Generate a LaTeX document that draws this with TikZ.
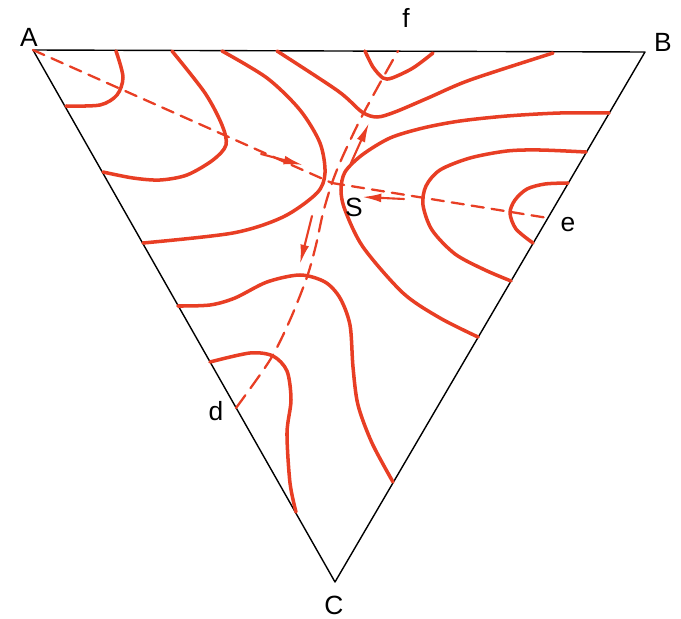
\documentclass[tikz,border=0pt]{standalone}
\usepackage{fontspec}
\setsansfont{Liberation Sans}
\usepackage{tikz}
\usetikzlibrary{arrows.meta}
\definecolor{isored}{RGB}{232,62,36}
\tikzstyle{isoline}=[line width=2pt, isored]
\tikzstyle{route}=[line width=1.3pt, isored, dash pattern=on 7pt off 4.5pt]
\tikzstyle{flow}=[line width=1.2pt, isored, -{Latex[length=11pt,width=5pt]}]
\tikzstyle{lbl}=[font=\sffamily\fontsize{15}{17}\selectfont, inner sep=0pt]

\begin{document}
\begin{tikzpicture}[line cap=round,line join=round,x=0.02cm,y=-0.02cm]
\useasboundingbox (0,0) rectangle (681,619);
% corners and points on the sides
\coordinate (A) at (33,50);
\coordinate (B) at (645,52);
\coordinate (C) at (335,582);
\coordinate (S) at (332,183);
\coordinate (d) at (236,408);
\coordinate (e) at (548,218);
\coordinate (f) at (398,51);
\draw [line width=0.8pt] (A) -- (B) -- (C) -- cycle;
% contour lines
\draw [isoline] plot[smooth] coordinates {(116,51) (123,77) (117,95) (100,105) (66,106)};
\draw [isoline] plot[smooth] coordinates {(172,51) (205,93) (222,125) (226,145) (213,160) (187,175) (160,180) (133,178) (103,172)};
\draw [isoline] plot[smooth] coordinates {(222,51) (267,78) (300,110) (320,143) (325,173) (317,193) (283,217) (233,233) (143,243)};
\draw [isoline] plot[smooth] coordinates {(277,51) (338,91) (362,112) (377,117) (395,112) (428,98) (470,80) (553,53)};
\draw [isoline] plot[smooth] coordinates {(365,51) (373,67) (383,78) (392,78) (413,68) (433,53)};
\draw [isoline] plot[smooth] coordinates {(609,113) (560,113) (507,116) (460,121) (423,128) (390,138) (362,155) (345,172) (341,190) (345,210) (363,247) (403,293) (440,318) (478,337)};
\draw [isoline] plot[smooth] coordinates {(586,152) (540,150) (507,151) (470,158) (440,170) (426,186) (423,205) (432,230) (455,254) (485,270) (511,281)};
\draw [isoline] plot[smooth] coordinates {(568,183) (545,184) (527,189) (515,200) (510,213) (516,229) (533,243)};
\draw [isoline] plot[smooth] coordinates {(178,306) (210,305) (235,298) (267,282) (300,275) (325,282) (340,298) (350,325) (353,367) (358,405) (372,443) (393,482)};
\draw [isoline] plot[smooth] coordinates {(210,362) (250,353) (273,356) (287,371) (291,400) (287,433) (290,483) (296,512)};
% paths of steepest ascent
\draw [route] (A) -- (S);
\draw [route] (S) -- (e);
\draw [route, dash pattern=on 9pt off 5pt] plot[smooth] coordinates {(d) (270,360) (290,320) (307,277) (316,245) (323,213) (S) (342,158) (360,120) (380,83) (f)};
% direction arrows
\draw [flow] (261,154) -- (303,165);
\draw [flow] (404,199) -- (362,197);
\draw [flow] (312,216) -- (300,264);
\draw [flow] (351,163) -- (369,123);
% labels
\node [lbl] (lA) at (29,37) {A};
\node [lbl] (lB) at (663,42) {B};
\node [lbl] (lC) at (334,605) {C};
\node [lbl] (ld) at (216,411) {d};
\node [lbl] (le) at (568,225) {e};
\node [lbl] (lf) at (406,18) {f};
\node [lbl] (lS) at (354,207) {S};
\end{tikzpicture}
\end{document}
